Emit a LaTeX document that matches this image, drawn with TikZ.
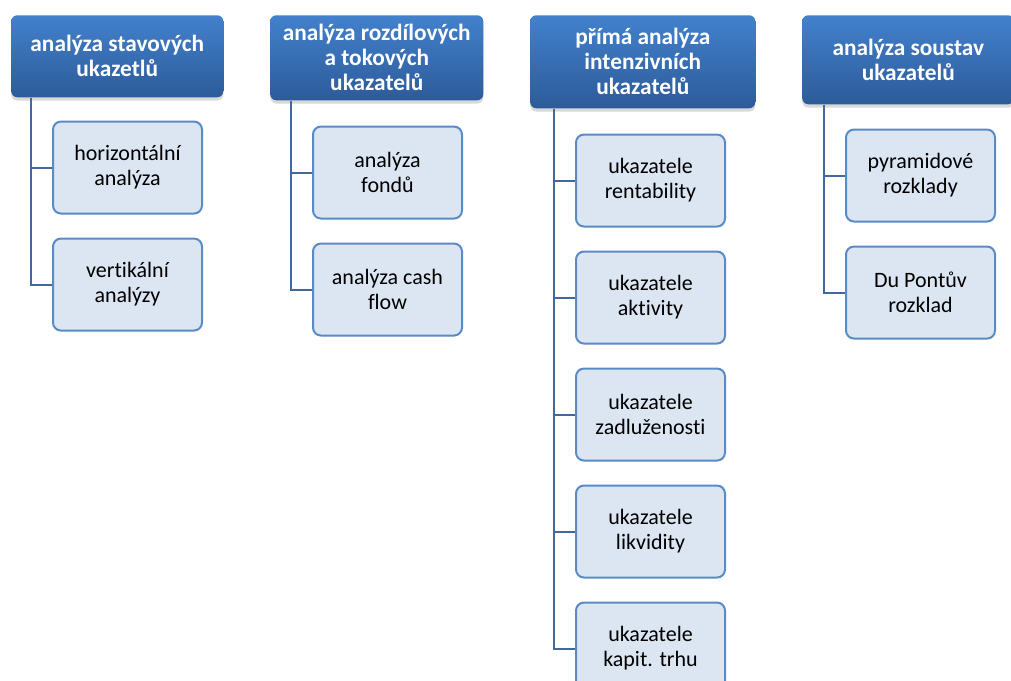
\documentclass[tikz,border=0pt]{standalone}
\usepackage{fontspec}
\setmainfont[Ligatures=NoCommon]{Carlito}
\usetikzlibrary{positioning, shadows}

\definecolor{headtop}{HTML}{4281CD}
\definecolor{headbot}{HTML}{2D5B99}
\definecolor{itemfill}{HTML}{DCE6F2}
\definecolor{itemline}{HTML}{5B8BC7}
\definecolor{trunk}{HTML}{41699F}

\begin{document}
\begin{tikzpicture}[
    node distance={17.25pt},
    head/.style={anchor=north west, rounded corners=4.5pt,
        top color=headtop, bottom color=headbot, text=white,
        font=\fontsize{17.5}{18.75}\selectfont\bfseries, align=center,
        inner sep=1pt, minimum width=159pt,
        drop shadow={opacity=0.3, shadow xshift=0pt, shadow yshift=-2.5pt}},
    item/.style={draw=itemline, line width=1.5pt, fill=itemfill,
        rounded corners=6pt, minimum width=111.75pt, minimum height=69pt,
        font=\fontsize{16.5}{18.75}\selectfont, align=center, inner sep=2pt},
    link/.style={draw=trunk, line width=1.5pt}
]

\clip (0,0) rectangle (758.25pt,-510.75pt);

% headers
\node[head, minimum height=61.5pt] (h1) at (8.25pt,-11.25pt) {analýza stavových\\ukazetlů};
\node[head, minimum height=63.75pt, minimum width=159.75pt] (h2) at (202.5pt,-11.25pt) {analýza rozdílových\\a tokových\\ukazatelů};
\node[head, minimum height=69.75pt, minimum width=168.75pt] (h3) at (397.5pt,-11.25pt) {přímá analýza\\intenzivních\\ukazatelů};
\node[head, minimum height=66.75pt] (h4) at (601.5pt,-11.25pt) {analýza soustav\\ukazatelů};

% column 1
\node[item] (c11) [below right=17.25pt and 30.75pt of h1.south west] {horizontální\\analýza};
\node[item] (c12) [below=of c11] {vertikální\\analýzy};

% column 2
\node[item] (c21) [below right=18.75pt and 31.5pt of h2.south west] {analýza\\fondů};
\node[item] (c22) [below=of c21] {analýza cash\\flow};

% column 3
\node[item] (c31) [below right=18.75pt and 33.75pt of h3.south west] {ukazatele\\rentability};
\node[item] (c32) [below=of c31] {ukazatele\\aktivity};
\node[item] (c33) [below=of c32] {ukazatele\\zadluženosti};
\node[item] (c34) [below=of c33] {ukazatele\\likvidity};
\node[item] (c35) [below=of c34] {ukazatele\\kapit. trhu};

% column 4
\node[item] (c41) [below right=18pt and 32.25pt of h4.south west] {pyramidové\\rozklady};
\node[item] (c42) [below=of c41] {Du Pontův\\rozklad};

% trunks
\coordinate[left=15.75pt of c11.west] (t1);
\coordinate[left=15.75pt of c21.west] (t2);
\coordinate[left=15.75pt of c31.west] (t3);
\coordinate[left=15.75pt of c41.west] (t4);

\draw[link] (h1.south -| t1) |- (c11.west) (h1.south -| t1) |- (c12.west);
\draw[link] (h2.south -| t2) |- (c21.west) (h2.south -| t2) |- (c22.west);
\draw[link] (h3.south -| t3) |- (c31.west) (h3.south -| t3) |- (c32.west)
    (h3.south -| t3) |- (c33.west) (h3.south -| t3) |- (c34.west)
    (h3.south -| t3) |- (c35.west);
\draw[link] (h4.south -| t4) |- (c41.west) (h4.south -| t4) |- (c42.west);

\end{tikzpicture}
\end{document}
